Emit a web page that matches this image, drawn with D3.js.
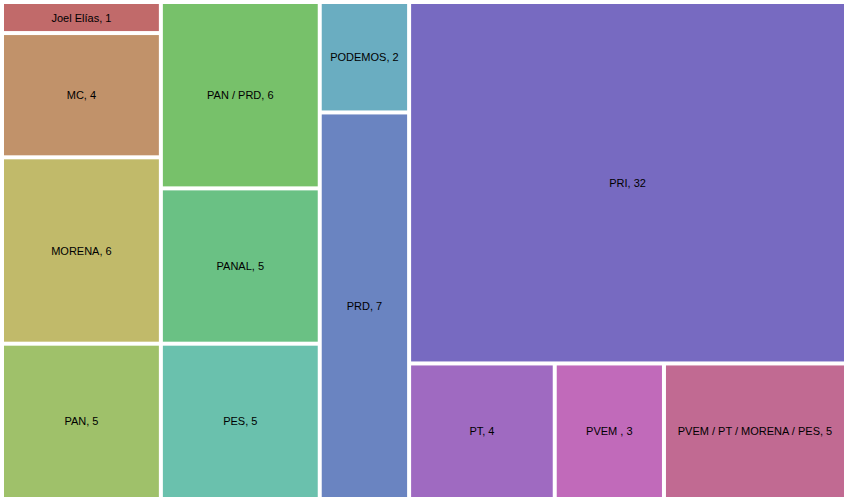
<!DOCTYPE html>
<html>
<head>
<meta charset="utf-8">
<script src="https://cdn.jsdelivr.net/npm/d3@7"></script>
<style>
  html, body { margin: 0; padding: 0; background: #fff; }
  svg { display: block; }
</style>
</head>
<body>
<svg id="chart" width="847" height="500"></svg>
<script>
const parties = ["Joel Elías", "MC", "MORENA", "PAN", "PAN / PRD", "PANAL", "PES", "PODEMOS", "PRD", "PRI", "PT", "PVEM ", "PVEM / PT / MORENA / PES"];
const seats = [1, 4, 6, 5, 6, 5, 5, 2, 7, 32, 4, 3, 5];

const W = 847, H = 500;
const svg = d3.select("#chart");

const root = d3.hierarchy({children: parties.map((p, i) => ({name: p, value: seats[i], idx: i}))})
  .sum(d => d.value || 0);

d3.treemap()
  .tile(d3.treemapSquarify)
  .size([W, H])
  .paddingInner(4)
  .paddingTop(4).paddingLeft(4).paddingRight(3).paddingBottom(3)
  (root);

const color = i => d3.hsl(i * 360 / parties.length, 0.41, 0.585).formatHex();

const g = svg.selectAll("g.tile").data(root.leaves()).join("g").attr("class", "tile");
g.append("rect")
  .attr("x", d => d.x0).attr("y", d => d.y0)
  .attr("width", d => d.x1 - d.x0).attr("height", d => d.y1 - d.y0)
  .attr("fill", d => color(d.data.idx));
g.append("text")
  .attr("x", d => (d.x0 + d.x1) / 2)
  .attr("y", d => (d.y0 + d.y1) / 2)
  .attr("text-anchor", "middle")
  .attr("dominant-baseline", "central")
  .attr("font-family", "Liberation Sans, Arial, sans-serif")
  .attr("font-size", 11)
  .attr("fill", "#000")
  .text(d => d.data.name + ", " + d.data.value);
</script>
</body>
</html>
